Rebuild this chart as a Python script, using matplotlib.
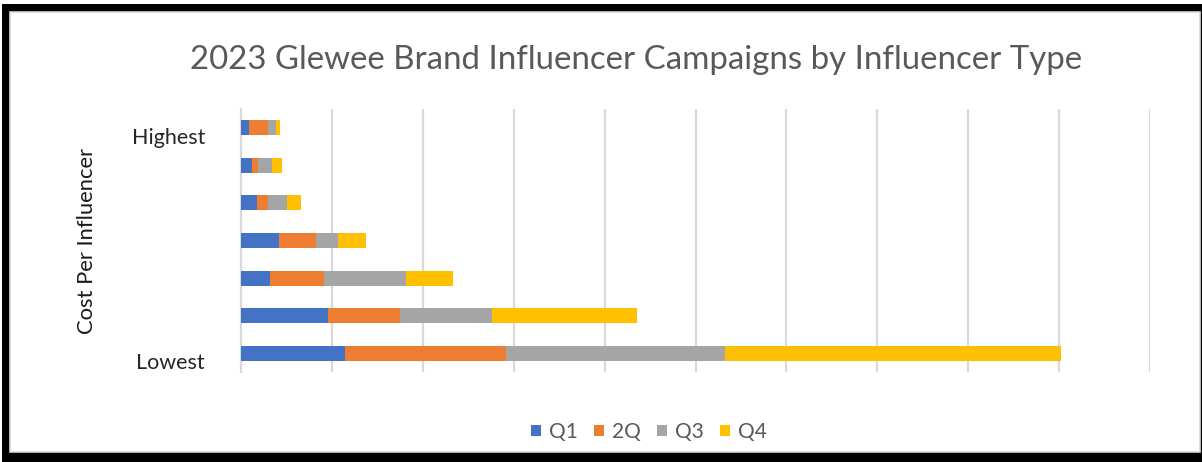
import matplotlib
matplotlib.use("Agg")
import matplotlib.pyplot as plt
import matplotlib.transforms as mtransforms
from matplotlib.patches import Rectangle
import numpy as np

# Rows from bottom (lowest cost) to top (highest cost)
categories = ["Lowest", "", "", "", "", "", "Highest"]
series_names = ["Q1", "2Q", "Q3", "Q4"]
q1 = [11.4, 9.6, 3.2, 4.2, 1.8, 1.2, 0.85]
q2 = [17.8, 7.9, 5.9, 4.0, 1.2, 0.7, 2.1]
q3 = [24.0, 10.1, 9.0, 2.5, 2.1, 1.5, 0.95]
q4 = [37.0, 16.0, 5.2, 3.1, 1.5, 1.1, 0.4]
colors = ["#4472C4", "#ED7D31", "#A5A5A5", "#FFC000"]

W, H = 1202, 462
fig = plt.figure(figsize=(W / 100, H / 100), dpi=100)
fig.patch.set_facecolor("white")

# Black frame with white chart area inside
fig.patches.append(Rectangle((2 / W, 0), 1200 / W, 458 / H, transform=fig.transFigure,
                             facecolor="black", edgecolor="none", zorder=-2))
fig.patches.append(Rectangle((10 / W, 10 / H), 1190 / W, 440 / H, transform=fig.transFigure,
                             facecolor="white", edgecolor="#D9D9D9", linewidth=1.2, zorder=-1))

ax = fig.add_axes([241 / W, (H - 372) / H, (1150 - 241) / W, (372 - 109) / H])
ax.set_zorder(2)
ax.set_facecolor("none")

y = np.arange(len(categories))
left = np.zeros(len(categories))
for name, vals, c in zip(series_names, [q1, q2, q3, q4], colors):
    ax.barh(y, vals, left=left, height=0.4, color=c, label=name, zorder=3)
    left += np.array(vals)

ax.set_xlim(0, 100)
ax.set_ylim(-0.5, len(categories) - 0.5)
ax.set_xticks(np.arange(0, 101, 10))
ax.set_xticklabels([])
ax.grid(axis="x", color="#D9D9D9", linewidth=1.6, zorder=0)
ax.tick_params(axis="both", length=0)
for s in ["top", "right", "bottom"]:
    ax.spines[s].set_visible(False)
ax.spines["left"].set_color("#D9D9D9")
ax.spines["left"].set_linewidth(1.6)

ax.set_yticks(y)
ax.set_yticklabels(categories, fontsize=15.5, color="#262626", family="Lato")
ax.tick_params(axis="y", pad=26)
offset = mtransforms.ScaledTranslation(0, -8 / 100, fig.dpi_scale_trans)
for lbl in ax.get_yticklabels():
    lbl.set_transform(lbl.get_transform() + offset)

fig.text(87 / W, (H - 241) / H, "Cost Per Influencer", rotation=90, ha="center", va="center",
         fontsize=15.8, color="#1a1a1a", family="Lato")

fig.text(636 / W, (H - 60) / H, "2023 Glewee Brand Influencer Campaigns by Influencer Type",
         ha="center", va="center", fontsize=23.8, color="#595959", family="Lato")

leg = fig.legend(loc="center", bbox_to_anchor=(649 / W, 30 / H), ncol=4, frameon=False,
                 prop={"family": "Lato", "size": 15}, handlelength=0.48, handleheight=0.48,
                 handletextpad=0.4, columnspacing=0.75, labelcolor="#595959")

fig.savefig("out.png", dpi=100, facecolor=fig.get_facecolor())
